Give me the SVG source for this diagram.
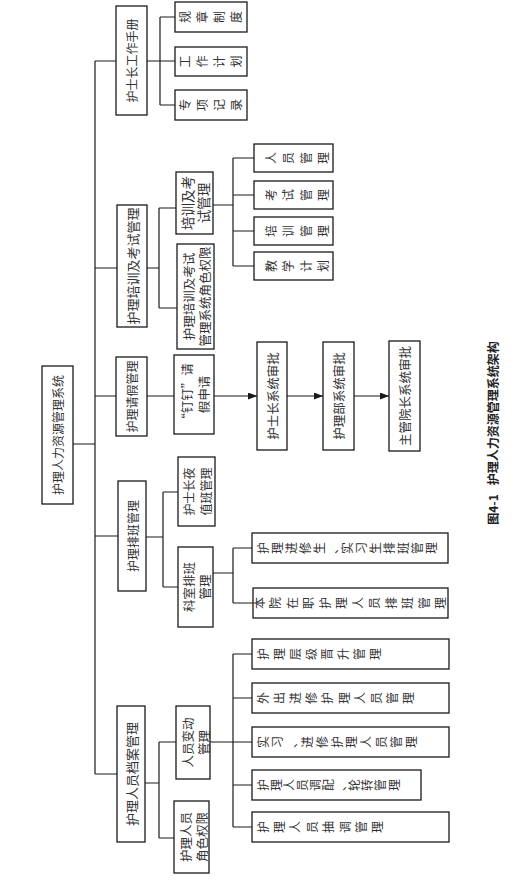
<svg xmlns="http://www.w3.org/2000/svg" width="525" height="883" viewBox="0 0 525 883">
<style>
.box{fill:#fff;stroke:#1a1a1a;stroke-width:1.3}
.ln{fill:none;stroke:#1a1a1a;stroke-width:1.2}
text{font-family:"Noto Sans CJK SC","Noto Sans CJK TC",sans-serif;fill:#333;text-anchor:middle;dominant-baseline:central;font-size:12.5px}
.c{font-size:12px}
.cap{font-size:12px;font-weight:bold;fill:#222}
</style>
<defs>
<marker id="ah" markerUnits="userSpaceOnUse" markerWidth="9" markerHeight="7" refX="9" refY="3.5" orient="auto">
<path d="M0,0 L9,3.5 L0,7 z" fill="#1a1a1a"/>
</marker>
</defs>
<rect width="525" height="883" fill="#fff"/>
<g id="connectors">
<path class="ln" d="M95,61 V774 M73,444 H95"/>
<path class="ln" d="M95,61 H116 M147,61 H175 M160,17 V105 M160,17 H175 M160,105 H175"/>
<path class="ln" d="M95,268 H117 M147,268 H159 M159,208 V308 M159,208 H176 M159,308 H177 M213,205 H233 M233,158 V266 M233,158 H254 M233,195 H254 M233,231 H254 M233,266 H254"/>
<path class="ln" d="M95,396 H116 M147,396 H174"/>
<path class="ln" d="M214,396 H257" marker-end="url(#ah)"/>
<path class="ln" d="M287,396 H323" marker-end="url(#ah)"/>
<path class="ln" d="M354,396 H389" marker-end="url(#ah)"/>
<path class="ln" d="M95,536 H118 M146,537 H163 M163,492 V587 M163,492 H178 M163,587 H178 M213,573 H233 M233,548 V603 M233,548 H252 M233,603 H253"/>
<path class="ln" d="M95,774 H117 M145,783 H159 M159,742 V838 M159,742 H176 M159,838 H174 M210,742 H233 M233,654 V827 M233,654 H252 M233,698 H252 M233,742 H252 M233,785 H252 M233,827 H252"/>
</g>
<g id="root"><rect class="box" x="42" y="366" width="31" height="138"/><text style="font-size:12px" transform="translate(57.5,435) rotate(-90)">护理人力资源管理系统</text></g>
<g id="n1"><rect class="box" x="116" y="6" width="31" height="109"/><text style="font-size:12px" transform="translate(131.5,60.5) rotate(-90)">护士长工作手册</text></g>
<g id="n1a"><rect class="box" x="175" y="2" width="72" height="30"/>
<text class="c" transform="translate(184,17) rotate(-90)">规</text><text class="c" transform="translate(201,17) rotate(-90)">章</text><text class="c" transform="translate(218,17) rotate(-90)">制</text><text class="c" transform="translate(235,17) rotate(-90)">度</text></g>
<g id="n1b"><rect class="box" x="175" y="47" width="72" height="29"/>
<text class="c" transform="translate(184,61.5) rotate(-90)">工</text><text class="c" transform="translate(201,61.5) rotate(-90)">作</text><text class="c" transform="translate(218,61.5) rotate(-90)">计</text><text class="c" transform="translate(235,61.5) rotate(-90)">划</text></g>
<g id="n1c"><rect class="box" x="175" y="90" width="72" height="30"/>
<text class="c" transform="translate(184,105) rotate(-90)">专</text><text class="c" transform="translate(201,105) rotate(-90)">项</text><text class="c" transform="translate(218,105) rotate(-90)">记</text><text class="c" transform="translate(235,105) rotate(-90)">录</text></g>
<g id="n2"><rect class="box" x="117" y="205" width="30" height="122"/><text style="font-size:13px" transform="translate(132,266) rotate(-90)">护理培训及考试管理</text></g>
<g id="n2a"><rect class="box" x="176" y="172" width="37" height="62"/><text style="font-size:13.5px" transform="translate(187,203) rotate(-90)">培训及考</text><text style="font-size:13.5px" transform="translate(203,203) rotate(-90)">试管理</text></g>
<g id="n2b"><rect class="box" x="177" y="244" width="37" height="105"/><text transform="translate(188,296.5) rotate(-90)">护理培训及考试</text><text transform="translate(204,296.5) rotate(-90)">管理系统角色权限</text></g>
<g id="n2a1"><rect class="box" x="254" y="144" width="79" height="28"/>
<text class="c" transform="translate(270,158) rotate(-90)">人</text><text class="c" transform="translate(287.5,158) rotate(-90)">员</text><text class="c" transform="translate(305,158) rotate(-90)">管</text><text class="c" transform="translate(322.5,158) rotate(-90)">理</text></g>
<g id="n2a2"><rect class="box" x="254" y="181" width="79" height="28"/>
<text class="c" transform="translate(270,195) rotate(-90)">考</text><text class="c" transform="translate(287.5,195) rotate(-90)">试</text><text class="c" transform="translate(305,195) rotate(-90)">管</text><text class="c" transform="translate(322.5,195) rotate(-90)">理</text></g>
<g id="n2a3"><rect class="box" x="254" y="217" width="79" height="28"/>
<text class="c" transform="translate(270,231) rotate(-90)">培</text><text class="c" transform="translate(287.5,231) rotate(-90)">训</text><text class="c" transform="translate(305,231) rotate(-90)">管</text><text class="c" transform="translate(322.5,231) rotate(-90)">理</text></g>
<g id="n2a4"><rect class="box" x="254" y="252" width="79" height="28"/>
<text class="c" transform="translate(270,266) rotate(-90)">教</text><text class="c" transform="translate(287.5,266) rotate(-90)">学</text><text class="c" transform="translate(305,266) rotate(-90)">计</text><text class="c" transform="translate(322.5,266) rotate(-90)">划</text></g>
<g id="n3"><rect class="box" x="116" y="357" width="31" height="79"/><text style="font-size:12px" transform="translate(131.5,396.5) rotate(-90)">护理请假管理</text></g>
<g id="n3a"><rect class="box" x="174" y="355" width="40" height="79"/><text transform="translate(186,394.5) rotate(-90)">“钉钉”请</text><text transform="translate(203,394.5) rotate(-90)">假申请</text></g>
<g id="n3b"><rect class="box" x="257" y="342" width="30" height="108"/><text transform="translate(272,396) rotate(-90)">护士长系统审批</text></g>
<g id="n3c"><rect class="box" x="323" y="342" width="31" height="108"/><text transform="translate(338.5,396) rotate(-90)">护理部系统审批</text></g>
<g id="n3d"><rect class="box" x="389" y="341" width="31" height="110"/><text transform="translate(404.5,396) rotate(-90)">主管院长系统审批</text></g>
<g id="n4"><rect class="box" x="118" y="481" width="28" height="110"/><text style="font-size:12px" transform="translate(132,536) rotate(-90)">护理排班管理</text></g>
<g id="n4a"><rect class="box" x="178" y="457" width="37" height="69"/><text style="font-size:12px" transform="translate(188,491.5) rotate(-90)">护士长夜</text><text style="font-size:12px" transform="translate(205,491.5) rotate(-90)">值班管理</text></g>
<g id="n4b"><rect class="box" x="178" y="547" width="35" height="80"/><text transform="translate(188,587) rotate(-90)">科室排班</text><text transform="translate(204,587) rotate(-90)">管理</text></g>
<g id="n4b1"><rect class="box" x="252" y="533" width="196" height="30"/>
<text class="c" transform="translate(262,548) rotate(-90)">护</text><text class="c" transform="translate(276,548) rotate(-90)">理</text><text class="c" transform="translate(290,548) rotate(-90)">进</text><text class="c" transform="translate(304,548) rotate(-90)">修</text><text class="c" transform="translate(318,548) rotate(-90)">生</text><text class="c" transform="translate(332,548) rotate(-90)">、</text><text class="c" transform="translate(346,548) rotate(-90)">实</text><text class="c" transform="translate(360,548) rotate(-90)">习</text><text class="c" transform="translate(374,548) rotate(-90)">生</text><text class="c" transform="translate(388,548) rotate(-90)">排</text><text class="c" transform="translate(402,548) rotate(-90)">班</text><text class="c" transform="translate(416,548) rotate(-90)">管</text><text class="c" transform="translate(430,548) rotate(-90)">理</text></g>
<g id="n4b2"><rect class="box" x="253" y="588" width="195" height="30"/>
<text class="c" transform="translate(258,603) rotate(-90)">本</text><text class="c" transform="translate(274.5,603) rotate(-90)">院</text><text class="c" transform="translate(291,603) rotate(-90)">在</text><text class="c" transform="translate(307.5,603) rotate(-90)">职</text><text class="c" transform="translate(324,603) rotate(-90)">护</text><text class="c" transform="translate(340.5,603) rotate(-90)">理</text><text class="c" transform="translate(357,603) rotate(-90)">人</text><text class="c" transform="translate(373.5,603) rotate(-90)">员</text><text class="c" transform="translate(390,603) rotate(-90)">排</text><text class="c" transform="translate(406.5,603) rotate(-90)">班</text><text class="c" transform="translate(423,603) rotate(-90)">管</text><text class="c" transform="translate(439.5,603) rotate(-90)">理</text></g>
<g id="n5"><rect class="box" x="117" y="706" width="28" height="136"/><text style="font-size:13px" transform="translate(131,774) rotate(-90)">护理人员档案管理</text></g>
<g id="n5a"><rect class="box" x="176" y="706" width="34" height="73"/><text transform="translate(187,742.5) rotate(-90)">人员变动</text><text transform="translate(203,742.5) rotate(-90)">管理</text></g>
<g id="n5b"><rect class="box" x="174" y="801" width="35" height="72"/><text transform="translate(185,837) rotate(-90)">护理人员</text><text transform="translate(201,837) rotate(-90)">角色权限</text></g>
<g id="n5a1"><rect class="box" x="252" y="639" width="197" height="30"/>
<text class="c" transform="translate(262,654) rotate(-90)">护</text><text class="c" transform="translate(278,654) rotate(-90)">理</text><text class="c" transform="translate(294,654) rotate(-90)">层</text><text class="c" transform="translate(310,654) rotate(-90)">级</text><text class="c" transform="translate(326,654) rotate(-90)">晋</text><text class="c" transform="translate(342,654) rotate(-90)">升</text><text class="c" transform="translate(358,654) rotate(-90)">管</text><text class="c" transform="translate(374,654) rotate(-90)">理</text></g>
<g id="n5a2"><rect class="box" x="252" y="683" width="197" height="30"/>
<text class="c" transform="translate(262,698) rotate(-90)">外</text><text class="c" transform="translate(278.2,698) rotate(-90)">出</text><text class="c" transform="translate(294.4,698) rotate(-90)">进</text><text class="c" transform="translate(310.6,698) rotate(-90)">修</text><text class="c" transform="translate(326.8,698) rotate(-90)">护</text><text class="c" transform="translate(343,698) rotate(-90)">理</text><text class="c" transform="translate(359.2,698) rotate(-90)">人</text><text class="c" transform="translate(375.4,698) rotate(-90)">员</text><text class="c" transform="translate(391.6,698) rotate(-90)">管</text><text class="c" transform="translate(407.8,698) rotate(-90)">理</text></g>
<g id="n5a3"><rect class="box" x="252" y="727" width="197" height="30"/>
<text class="c" transform="translate(262,742) rotate(-90)">实</text><text class="c" transform="translate(276.8,742) rotate(-90)">习</text><text class="c" transform="translate(291.6,742) rotate(-90)">、</text><text class="c" transform="translate(306.4,742) rotate(-90)">进</text><text class="c" transform="translate(321.2,742) rotate(-90)">修</text><text class="c" transform="translate(336,742) rotate(-90)">护</text><text class="c" transform="translate(350.8,742) rotate(-90)">理</text><text class="c" transform="translate(365.6,742) rotate(-90)">人</text><text class="c" transform="translate(380.4,742) rotate(-90)">员</text><text class="c" transform="translate(395.2,742) rotate(-90)">管</text><text class="c" transform="translate(410,742) rotate(-90)">理</text></g>
<g id="n5a4"><rect class="box" x="252" y="770" width="169" height="30"/>
<text class="c" transform="translate(262,785) rotate(-90)">护</text><text class="c" transform="translate(275.1,785) rotate(-90)">理</text><text class="c" transform="translate(288.2,785) rotate(-90)">人</text><text class="c" transform="translate(301.3,785) rotate(-90)">员</text><text class="c" transform="translate(314.4,785) rotate(-90)">调</text><text class="c" transform="translate(327.5,785) rotate(-90)">配</text><text class="c" transform="translate(340.6,785) rotate(-90)">、</text><text class="c" transform="translate(353.7,785) rotate(-90)">轮</text><text class="c" transform="translate(366.8,785) rotate(-90)">转</text><text class="c" transform="translate(379.9,785) rotate(-90)">管</text><text class="c" transform="translate(393,785) rotate(-90)">理</text></g>
<g id="n5a5"><rect class="box" x="252" y="812" width="197" height="30"/>
<text class="c" transform="translate(262,827) rotate(-90)">护</text><text class="c" transform="translate(278.4,827) rotate(-90)">理</text><text class="c" transform="translate(294.8,827) rotate(-90)">人</text><text class="c" transform="translate(311.2,827) rotate(-90)">员</text><text class="c" transform="translate(327.6,827) rotate(-90)">抽</text><text class="c" transform="translate(344,827) rotate(-90)">调</text><text class="c" transform="translate(360.4,827) rotate(-90)">管</text><text class="c" transform="translate(376.8,827) rotate(-90)">理</text></g>
<g id="caption"><text class="cap" transform="translate(492,433) rotate(-90)">图4-1<tspan dx="9">护理人力资源管理系统架构</tspan></text></g>
</svg>
